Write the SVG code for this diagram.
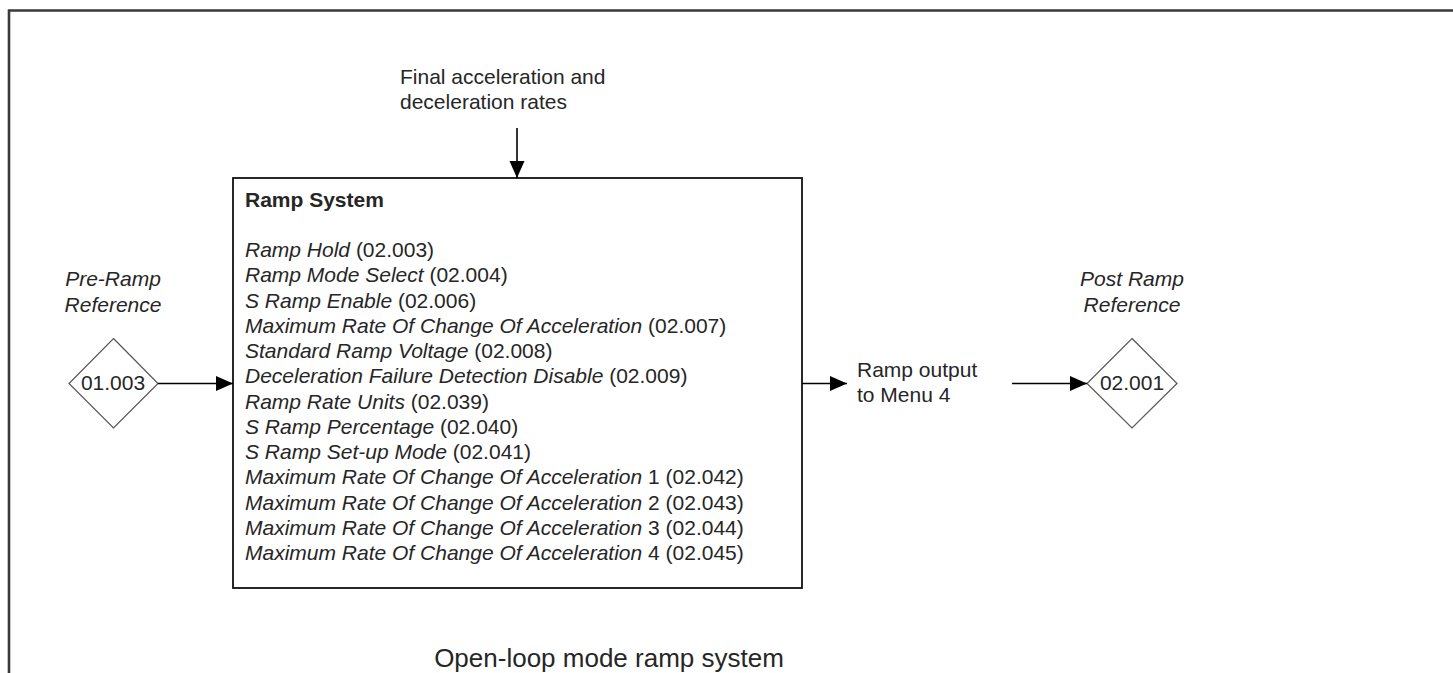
<svg xmlns="http://www.w3.org/2000/svg" width="1453" height="673" viewBox="0 0 1453 673">
<defs>
<style>
text{font-family:"Liberation Sans",Arial,sans-serif;font-size:21px;fill:#262626}
.it{font-style:italic}
.b{font-weight:bold}
.c{text-anchor:middle}
.conn line{stroke:#000;stroke-width:1.6;fill:none}
.dia{fill:#fff;stroke:#555;stroke-width:1.2}
</style>
<marker id="ah" markerUnits="userSpaceOnUse" markerWidth="18" markerHeight="16" refX="17" refY="7.5" orient="auto">
<path d="M0,0 L17,7.5 L0,15 z" fill="#000"/>
</marker>
</defs>
<rect width="1453" height="673" fill="#fff"/>
<path d="M9,673 V10.5 H1453" fill="none" stroke="#3a3a3a" stroke-width="2.6"/>

<g id="top-label">
<text x="400" y="84">Final acceleration and</text>
<text x="400" y="109">deceleration rates</text>
</g>

<g id="ramp-system">
<rect x="233" y="178" width="569" height="410" fill="#fff" stroke="#111" stroke-width="1.8"/>
<text x="245" y="207" class="b">Ramp System</text>
<text x="245" y="257"><tspan class="it">Ramp Hold</tspan> (02.003)</text>
<text x="245" y="282.25"><tspan class="it">Ramp Mode Select</tspan> (02.004)</text>
<text x="245" y="307.5"><tspan class="it">S Ramp Enable</tspan> (02.006)</text>
<text x="245" y="332.75"><tspan class="it">Maximum Rate Of Change Of Acceleration</tspan> (02.007)</text>
<text x="245" y="358"><tspan class="it">Standard Ramp Voltage</tspan> (02.008)</text>
<text x="245" y="383.25"><tspan class="it">Deceleration Failure Detection Disable</tspan> (02.009)</text>
<text x="245" y="408.5"><tspan class="it">Ramp Rate Units</tspan> (02.039)</text>
<text x="245" y="433.75"><tspan class="it">S Ramp Percentage</tspan> (02.040)</text>
<text x="245" y="459"><tspan class="it">S Ramp Set-up Mode</tspan> (02.041)</text>
<text x="245" y="484.25"><tspan class="it">Maximum Rate Of Change Of Acceleration</tspan> 1 (02.042)</text>
<text x="245" y="509.5"><tspan class="it">Maximum Rate Of Change Of Acceleration</tspan> 2 (02.043)</text>
<text x="245" y="534.75"><tspan class="it">Maximum Rate Of Change Of Acceleration</tspan> 3 (02.044)</text>
<text x="245" y="560"><tspan class="it">Maximum Rate Of Change Of Acceleration</tspan> 4 (02.045)</text>
</g>

<g id="pre-ramp">
<text x="113" y="286" class="it c">Pre-Ramp</text>
<text x="113" y="312" class="it c">Reference</text>
<polygon class="dia" points="113.5,338.5 158,383.5 113.5,428 69,383.5"/>
<text x="113" y="390" class="c">01.003</text>
</g>

<g id="ramp-output">
<text x="857" y="377">Ramp output</text>
<text x="857" y="402">to Menu 4</text>
</g>

<g id="post-ramp">
<text x="1132" y="286" class="it c">Post Ramp</text>
<text x="1132" y="312" class="it c">Reference</text>
<polygon class="dia" points="1132,338.5 1177,383.5 1132,428 1087,383.5"/>
<text x="1132" y="390" class="c">02.001</text>
</g>

<g id="connectors" class="conn">
<line x1="517" y1="128" x2="517" y2="178" marker-end="url(#ah)"/>
<line x1="158" y1="383.5" x2="233" y2="383.5" marker-end="url(#ah)"/>
<line x1="802" y1="383.5" x2="847" y2="383.5" marker-end="url(#ah)"/>
<line x1="1012" y1="383.5" x2="1087" y2="383.5" marker-end="url(#ah)"/>
</g>

<g id="caption">
<text x="609" y="667" class="c" style="font-size:26px">Open-loop mode ramp system</text>
</g>
</svg>
